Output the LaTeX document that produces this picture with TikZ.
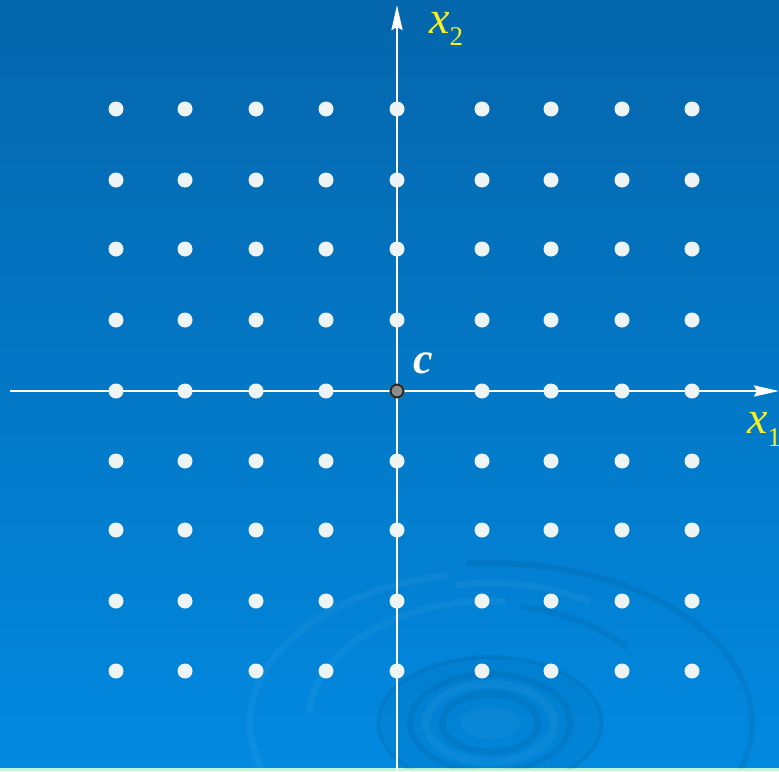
\documentclass[tikz,border=0pt]{standalone}
\usepackage{fontspec}
\setmainfont{Liberation Serif}
\usetikzlibrary{arrows.meta}
\definecolor{SeaTop}{RGB}{4,102,172}
\definecolor{SeaBottom}{RGB}{2,137,224}
\definecolor{Foam}{RGB}{192,246,214}
\definecolor{DotWhite}{RGB}{238,243,243}
\definecolor{LabelYellow}{RGB}{246,240,36}
\begin{document}
\begin{tikzpicture}[
  x=1pt, y=-1pt,
  >={Stealth[length=25pt,width=11pt,inset=3pt]},
  axis/.style={draw=white, line width=2.6pt},
  pt/.style={circle, fill=DotWhite, minimum size=15pt, inner sep=0pt},
  origin/.style={circle, fill=black!45, draw=black!85, line width=2pt, minimum size=13pt, inner sep=0pt},
  dark/.style={draw=black, draw opacity=0.06, line width=6pt},
  light/.style={draw=white, draw opacity=0.045, line width=7pt},
  lab/.style={text=LabelYellow, anchor=base west, inner sep=0pt, font=\fontsize{46}{46}\selectfont\itshape},
]
\useasboundingbox (0,0) rectangle (779,771);
\shade[top color=SeaTop, bottom color=SeaBottom] (0,0) rectangle (779,768);
\fill[Foam] (0,768) rectangle (779,771);
\coordinate (eye) at (490,723);
\begin{scope}
\clip (0,0) rectangle (779,768);
\fill[black, opacity=0.035] (eye) ellipse[x radius=112, y radius=66];
\draw[dark, line width=7pt] (eye) ellipse[x radius=48, y radius=29];
\draw[dark] (eye) ellipse[x radius=80, y radius=49];
\draw[dark, line width=4pt] (eye) ellipse[x radius=112, y radius=66];
\draw[light, line width=8pt] (eye) ellipse[x radius=64, y radius=39];
\fill[white, opacity=0.04] (eye) ellipse[x radius=30, y radius=16];
\draw[dark] (eye) ++(-40:178 and 118) arc[start angle=-40, end angle=-80, x radius=178, y radius=118];
\draw[light] (eye) ++(-85:182 and 122) arc[start angle=-85, end angle=-175, x radius=182, y radius=122];
\draw[dark] (eye) ++(20:262 and 160) arc[start angle=20, end angle=-95, x radius=262, y radius=160];
\draw[light] (eye) ++(-100:240 and 150) arc[start angle=-100, end angle=-200, x radius=240, y radius=150];
\draw[light] (eye) ++(-60:200 and 140) arc[start angle=-60, end angle=-100, x radius=200, y radius=140];
\end{scope}
\coordinate (h0) at (10,391);
\coordinate (h1) at (779,391);
\coordinate (v0) at (397,771);
\coordinate (v1) at (397,5);
\draw[axis, ->] (h0) -- (h1);
\draw[axis, ->] (v0) -- (v1);
\foreach \px [count=\i] in {116,185,256,326,397,482,551,622,692}
  \foreach \py [count=\j] in {109,180,249,320,391,461,530,601,671}
    \node[pt] (d\i-\j) at (\px,\py) {};
\node[origin] (c0) at (397,391) {};
\node[lab] (x2) at (429,33) {x\raisebox{-13pt}{\fontsize{27}{27}\selectfont\upshape 2}};
\node[lab] (x1) at (747,433) {x\raisebox{-13pt}{\fontsize{27}{27}\selectfont\upshape 1}};
\node[lab, text=white, font=\fontsize{44}{44}\selectfont\bfseries\itshape] (cl) at (413,373) {c};
\end{tikzpicture}
\end{document}
